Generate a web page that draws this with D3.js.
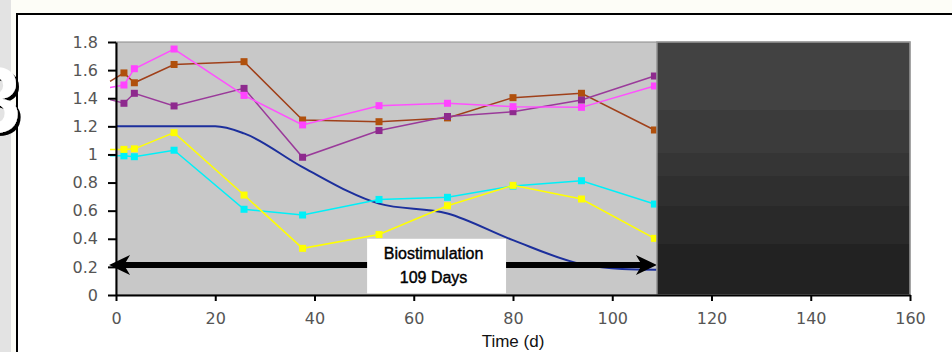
<!DOCTYPE html>
<html><head><meta charset="utf-8">
<script src="https://cdn.jsdelivr.net/npm/d3@7"></script>
<style>html,body{margin:0;padding:0;background:#fdfdf7;}svg{display:block;}</style>
</head><body><svg id="c" width="952" height="352"></svg>
<script>
// ---- data ----
const times = [-1.2, 1.6, 3.7, 11.7, 25.8, 37.6, 53, 66.8, 80, 93.8, 108.5];
const brown  = [1.52, 1.58, 1.51, 1.64, 1.66, 1.245, 1.233, 1.26, 1.404, 1.435, 1.174];
const pink   = [1.477, 1.494, 1.61, 1.75, 1.42, 1.21, 1.347, 1.364, 1.34, 1.335, 1.487];
const purple = [1.39, 1.364, 1.435, 1.345, 1.47, 0.98, 1.17, 1.27, 1.304, 1.387, 1.558];
const yellow = [1.036, 1.036, 1.04, 1.155, 0.711, 0.332, 0.43, 0.635, 0.78, 0.683, 0.403];
const cyan   = [0.99, 0.99, 0.984, 1.03, 0.61, 0.569, 0.68, 0.695, 0.775, 0.813, 0.647];
const blueTimes = [0, 20, 25.8, 37.6, 53, 66.8, 80, 93.8, 102, 109];
const blue      = [1.2, 1.2, 1.15, 0.91, 0.65, 0.58, 0.39, 0.22, 0.185, 0.18];
const xTicks = [0, 20, 40, 60, 80, 100, 120, 140, 160];
const yTicks = [0, 0.2, 0.4, 0.6, 0.8, 1, 1.2, 1.4, 1.6, 1.8];
const yTickLabels = ["0", "0.2", "0.4", "0.6", "0.8", "1", "1.2", "1.4", "1.6", "1.8"];
const treatmentEnd = 109;
const arrowRange = [-1.4, 109];
const arrowLevel = 0.213;
const noteLines = ["Biostimulation", "109 Days"];
const xLabel = "Time (d)";
const panelLabel = "3";

// ---- drawing ----
const svg = d3.select("#c");
const x = d3.scaleLinear().domain([0, 160]).range([116, 910]);
const y = d3.scaleLinear().domain([0, 1.8]).range([295, 42]);
const defs = svg.append("defs");

svg.append("rect").attr("width", 952).attr("height", 352).attr("fill", "#fdfdf7");
svg.append("rect").attr("x", 0).attr("y", 0).attr("width", 11).attr("height", 352).attr("fill", "#e3e3e3");
svg.append("rect").attr("x", 17).attr("y", 14).attr("width", 960).attr("height", 360)
  .attr("fill", "#ffffff").attr("stroke", "#000").attr("stroke-width", 2);

// plot area
svg.append("rect").attr("x", x(0)).attr("y", y(1.8)).attr("width", x(160) - x(0)).attr("height", y(0) - y(1.8))
  .attr("fill", "#c8c8c8").attr("stroke", "#8a8a8a").attr("stroke-width", 1);

const series = [
  {vals: brown, line: "#a0401a", mark: "#b0500c"},
  {vals: purple, line: "#9a3a9a", mark: "#8e2a8e"},
  {vals: pink, line: "#ff50ff", mark: "#ff44ff"},
  {vals: cyan, line: "#00f0f8", mark: "#00f0f8"},
  {vals: yellow, line: "#ffff00", mark: "#ffff00"}
];
const line = d3.line().x(d => x(d[0])).y(d => y(d[1]));

// blue smooth curve
const blueData = blueTimes.map((t, i) => [t, blue[i]]);
svg.append("path").attr("d", d3.line().x(d => x(d[0])).y(d => y(d[1])).curve(d3.curveMonotoneX)(blueData))
  .attr("fill", "none").attr("stroke", "#1c2f9c").attr("stroke-width", 2);

series.forEach(s => {
  const data = times.map((t, i) => [t, s.vals[i]]);
  svg.append("path").attr("d", line(data)).attr("fill", "none")
    .attr("stroke", s.line).attr("stroke-width", 1.5);
  svg.selectAll(null).data(data.filter(d => d[0] >= 0)).enter().append("rect")
    .attr("x", d => x(d[0]) - 3.5).attr("y", d => y(d[1]) - 3.5)
    .attr("width", 7).attr("height", 7).attr("fill", s.mark);
});

// arrow
const ay = y(arrowLevel);
const ax0 = x(arrowRange[0]), ax1 = x(arrowRange[1]);
svg.append("line").attr("x1", ax0 + 10).attr("x2", ax1 - 10).attr("y1", ay).attr("y2", ay)
  .attr("stroke", "#000").attr("stroke-width", 6);
const head = (tip, dir) => {
  const p = [[tip, ay], [tip - dir * 21, ay - 10], [tip - dir * 15, ay], [tip - dir * 21, ay + 10]];
  svg.append("path").attr("d", "M" + p.map(q => q.join(",")).join("L") + "Z").attr("fill", "#000");
};
head(ax0, -1);
head(ax1, 1);

// annotation box
const bx0 = x(50.6), bx1 = x(78.6), by0 = y(0.4), by1 = y(0.012);
svg.append("rect").attr("x", bx0).attr("y", by0).attr("width", bx1 - bx0).attr("height", by1 - by0).attr("fill", "#fff");
noteLines.forEach((t, i) => {
  svg.append("text").attr("x", (bx0 + bx1) / 2 - 3).attr("y", by0 + 20 + i * 24)
    .attr("text-anchor", "middle").attr("font-family", "Liberation Sans, Arial, sans-serif")
    .attr("font-size", 16).attr("fill", "#000").attr("stroke", "#000").attr("stroke-width", 0.4).text(t);
});

// dark shaded region after treatment
const g = defs.append("linearGradient").attr("id", "dk").attr("x1", 0).attr("x2", 0).attr("y1", 0).attr("y2", 1);
const bands = ["#424242", "#3b3b3b", "#353535", "#2f2f2f", "#292929", "#222222"];
const bandEdges = [0, 0.27, 0.44, 0.53, 0.65, 0.8, 1];
bands.forEach((c, i) => {
  g.append("stop").attr("offset", bandEdges[i]).attr("stop-color", c);
  g.append("stop").attr("offset", bandEdges[i + 1]).attr("stop-color", c);
});
svg.append("rect").attr("x", x(treatmentEnd)).attr("y", y(1.8)).attr("width", x(160) - x(treatmentEnd))
  .attr("height", y(0) - y(1.8)).attr("fill", "url(#dk)").attr("stroke", "#9a9a9a").attr("stroke-width", 1.5);

// axes
const yAxis = d3.axisLeft(y).tickValues(yTicks).tickFormat((d, i) => yTickLabels[i]).tickSize(8).tickSizeOuter(0).tickPadding(10);
const xAxis = d3.axisBottom(x).tickValues(xTicks).tickSize(6).tickSizeOuter(0).tickPadding(12);
const gy = svg.append("g").attr("transform", `translate(${x(0)},0)`).call(yAxis);
const gx = svg.append("g").attr("transform", `translate(0,${y(0)})`).call(xAxis);
[gx, gy].forEach(a => {
  a.select(".domain").attr("stroke", "#000").attr("stroke-width", 2);
  a.selectAll(".tick line").attr("stroke", "#000").attr("stroke-width", 2);
  a.selectAll(".tick text").attr("font-family", "DejaVu Sans, sans-serif").attr("font-size", 16).attr("fill", "#555");
});

svg.append("text").attr("x", (x(0) + x(160)) / 2).attr("y", 347).attr("text-anchor", "middle")
  .attr("font-family", "Liberation Sans, Arial, sans-serif").attr("font-size", 17).attr("fill", "#111").text(xLabel);

// panel label (white digit with hard black drop shadow)
const f = defs.append("filter").attr("id", "sh").attr("x", "-20%").attr("y", "-20%").attr("width", "140%").attr("height", "140%");
f.append("feDropShadow").attr("dx", 3).attr("dy", 3).attr("stdDeviation", 0.6)
  .attr("flood-color", "#000").attr("flood-opacity", 1);
svg.append("text").attr("x", 21).attr("y", 132).attr("text-anchor", "end")
  .attr("font-family", "Liberation Sans, Arial, sans-serif").attr("font-weight", "bold").attr("font-size", 92)
  .attr("fill", "#fff").attr("filter", "url(#sh)").text(panelLabel);
</script></body></html>
